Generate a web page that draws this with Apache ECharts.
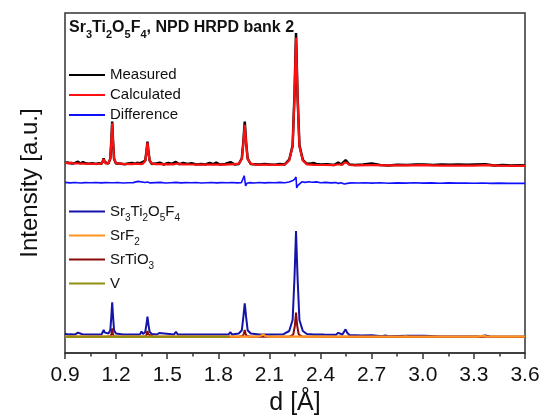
<!DOCTYPE html>
<html>
<head>
<meta charset="utf-8">
<script src="https://cdn.jsdelivr.net/npm/echarts@6/dist/echarts.min.js"></script>
<style>
  html, body { margin: 0; padding: 0; background: #fff; }
  #chart { width: 545px; height: 416px; }
</style>
</head>
<body>
<div id="chart"></div>
<script>
// x ticks (d in Angstrom)
const xTicks = [0.9, 1.2, 1.5, 1.8, 2.1, 2.4, 2.7, 3.0, 3.3, 3.6];

// upper pattern: [d, intensity] (arbitrary units, offset stacked)
const measured = [
  [0.900, 190.0], [0.915, 190.6], [0.930, 189.8], [0.937, 190.9], [0.945, 189.4], [0.960, 190.1], [0.976, 191.3], [0.990, 189.6],
  [1.006, 190.9], [1.020, 189.7], [1.040, 189.2], [1.060, 189.9], [1.080, 189.1], [1.100, 189.7], [1.115, 189.2], [1.122, 191.8],
  [1.127, 194.6], [1.132, 191.2], [1.140, 189.7], [1.155, 189.4], [1.166, 194.4], [1.172, 212.5], [1.177, 231.5], [1.182, 212.0],
  [1.188, 194.3], [1.199, 189.5], [1.220, 189.6], [1.250, 188.8], [1.270, 189.5], [1.294, 190.1], [1.310, 189.2], [1.323, 190.2],
  [1.329, 191.3], [1.336, 189.8], [1.349, 190.2], [1.358, 189.1], [1.371, 192.4], [1.378, 201.3], [1.384, 211.4], [1.390, 201.0],
  [1.397, 192.4], [1.410, 189.0], [1.430, 189.4], [1.456, 190.3], [1.480, 188.5], [1.506, 190.1], [1.525, 189.2], [1.551, 191.0],
  [1.570, 188.7], [1.594, 190.0], [1.620, 189.1], [1.643, 189.9], [1.670, 188.5], [1.700, 189.1], [1.725, 188.6], [1.749, 190.2],
  [1.770, 188.9], [1.788, 190.3], [1.810, 188.4], [1.840, 189.0], [1.871, 190.8], [1.895, 188.6], [1.920, 189.0], [1.938, 194.6],
  [1.947, 211.5], [1.955, 231.5], [1.963, 211.0], [1.972, 194.4], [1.990, 189.0], [2.010, 188.8], [2.040, 188.4], [2.070, 189.0],
  [2.100, 188.6], [2.130, 188.2], [2.160, 188.9], [2.190, 188.6], [2.216, 193.3], [2.236, 207.4], [2.247, 258.5], [2.256, 320.0],
  [2.265, 257.0], [2.276, 207.8], [2.296, 193.1], [2.320, 189.2], [2.340, 189.4], [2.357, 190.0], [2.375, 189.1], [2.400, 188.4],
  [2.440, 188.7], [2.480, 188.1], [2.504, 190.4], [2.520, 188.4], [2.547, 192.8], [2.570, 188.5], [2.600, 188.0], [2.650, 188.4],
  [2.700, 189.5], [2.750, 188.0], [2.800, 187.6], [2.850, 188.2], [2.910, 187.9], [2.960, 188.4], [3.010, 188.5], [3.060, 188.0],
  [3.110, 188.4], [3.160, 188.2], [3.210, 188.6], [3.260, 188.3], [3.310, 188.5], [3.367, 188.7], [3.420, 187.6], [3.470, 187.9],
  [3.520, 187.4], [3.570, 187.7], [3.600, 187.5]
];

const calculated = [
  [0.900, 190.3], [0.920, 189.6], [0.937, 190.4], [0.950, 189.5], [0.970, 189.6], [0.976, 190.8], [0.983, 189.5], [1.000, 189.4],
  [1.006, 190.4], [1.012, 189.3], [1.060, 189.2], [1.100, 189.2], [1.115, 189.5], [1.122, 191.5], [1.127, 194.0], [1.132, 191.5],
  [1.139, 189.4], [1.155, 189.8], [1.166, 194.4], [1.172, 211.5], [1.177, 230.0], [1.182, 211.5], [1.188, 194.4], [1.199, 189.8],
  [1.240, 189.0], [1.290, 188.9], [1.294, 189.7], [1.298, 188.9], [1.329, 189.4], [1.345, 188.8], [1.349, 189.8], [1.353, 188.8],
  [1.358, 189.4], [1.371, 191.9], [1.378, 200.5], [1.384, 210.3], [1.390, 200.5], [1.397, 191.9], [1.410, 189.4], [1.430, 188.8],
  [1.450, 188.8], [1.456, 189.8], [1.462, 188.8], [1.500, 188.7], [1.506, 189.7], [1.512, 188.7], [1.540, 188.7], [1.546, 189.5],
  [1.551, 190.6], [1.556, 189.5], [1.562, 188.6], [1.588, 188.6], [1.594, 189.6], [1.600, 188.6], [1.637, 188.5], [1.643, 189.5],
  [1.649, 188.5], [1.700, 188.4], [1.742, 188.4], [1.749, 189.8], [1.756, 188.4], [1.781, 188.4], [1.788, 189.9], [1.795, 188.4],
  [1.840, 188.3], [1.862, 188.6], [1.871, 190.3], [1.880, 188.6], [1.920, 189.4], [1.938, 194.0], [1.947, 210.2], [1.955, 228.2],
  [1.963, 210.2], [1.972, 194.0], [1.990, 189.4], [2.020, 188.2], [2.060, 188.5], [2.100, 188.1], [2.150, 188.2], [2.190, 188.5],
  [2.216, 192.5], [2.236, 206.4], [2.247, 256.7], [2.256, 315.2], [2.265, 256.7], [2.276, 206.4], [2.296, 192.5], [2.320, 188.6],
  [2.360, 188.1], [2.420, 188.0], [2.480, 187.9], [2.495, 188.5], [2.504, 189.8], [2.513, 188.5], [2.530, 188.3], [2.540, 190.5],
  [2.547, 192.2], [2.555, 190.2], [2.570, 188.0], [2.620, 187.7], [2.690, 187.8], [2.700, 189.0], [2.710, 187.8], [2.800, 187.6],
  [2.910, 187.7], [3.010, 187.8], [3.100, 187.4], [3.200, 187.5], [3.300, 187.4], [3.367, 187.8], [3.450, 187.3], [3.600, 187.2]
];

const difference = [
  [0.900, 170.6], [0.930, 170.1], [0.960, 170.5], [0.990, 170.0], [1.020, 170.4], [1.050, 170.2], [1.080, 170.5], [1.110, 170.1],
  [1.140, 170.4], [1.170, 170.3], [1.177, 172.0], [1.184, 170.2], [1.210, 170.5], [1.240, 170.0], [1.270, 170.3], [1.300, 170.4],
  [1.329, 171.6], [1.340, 170.2], [1.370, 170.5], [1.384, 171.0], [1.400, 170.1], [1.430, 170.4], [1.460, 170.6], [1.490, 170.0],
  [1.520, 170.3], [1.550, 170.6], [1.580, 170.1], [1.610, 170.4], [1.640, 170.2], [1.670, 170.5], [1.700, 170.0], [1.730, 170.3],
  [1.760, 170.5], [1.790, 170.1], [1.820, 170.4], [1.850, 170.2], [1.880, 170.5], [1.910, 170.1], [1.935, 170.2], [1.945, 168.3],
  [1.952, 177.3], [1.960, 167.0], [1.968, 169.8], [1.985, 170.4], [2.010, 170.0], [2.040, 170.5], [2.070, 170.1], [2.100, 170.4],
  [2.130, 170.2], [2.160, 170.6], [2.190, 170.3], [2.215, 171.0], [2.235, 172.2], [2.247, 173.6], [2.252, 172.4], [2.256, 176.0],
  [2.260, 165.0], [2.266, 167.3], [2.275, 169.2], [2.290, 171.2], [2.310, 170.6], [2.330, 171.2], [2.350, 170.8], [2.375, 171.1],
  [2.400, 170.3], [2.430, 170.6], [2.460, 170.1], [2.490, 170.4], [2.504, 169.6], [2.520, 170.2], [2.540, 169.0], [2.547, 168.0],
  [2.556, 169.6], [2.580, 170.1], [2.620, 170.0], [2.660, 170.3], [2.700, 169.9], [2.750, 170.2], [2.800, 169.8], [2.850, 170.1],
  [2.900, 169.9], [2.950, 170.2], [3.000, 169.9], [3.050, 170.1], [3.100, 169.8], [3.150, 170.1], [3.200, 169.9], [3.250, 170.0],
  [3.300, 169.7], [3.350, 170.0], [3.400, 169.6], [3.450, 169.9], [3.500, 169.6], [3.550, 169.8], [3.600, 169.6]
];

// lower pattern: phase contributions
const phaseSTOF = [
  [0.900, 19.2], [0.920, 18.6], [0.932, 18.7], [0.937, 20.4], [0.942, 18.7], [0.960, 18.6], [0.971, 18.7], [0.976, 20.4],
  [0.981, 18.7], [1.001, 18.7], [1.006, 20.4], [1.011, 18.6], [1.060, 18.5], [1.100, 18.5], [1.115, 18.8], [1.122, 20.6],
  [1.127, 23.1], [1.132, 20.6], [1.139, 18.7], [1.155, 19.5], [1.166, 22.8], [1.172, 36.6], [1.177, 50.6], [1.182, 36.6],
  [1.188, 22.8], [1.199, 19.5], [1.240, 18.5], [1.288, 18.5], [1.294, 19.6], [1.300, 18.5], [1.340, 18.6], [1.345, 19.6],
  [1.349, 21.5], [1.353, 19.6], [1.358, 19.1], [1.371, 21.0], [1.378, 28.4], [1.384, 36.3], [1.390, 28.4], [1.397, 21.0],
  [1.410, 19.0], [1.440, 18.5], [1.448, 18.6], [1.453, 20.0], [1.458, 18.6], [1.540, 18.5], [1.546, 19.6], [1.551, 21.3],
  [1.556, 19.6], [1.562, 18.5], [1.594, 18.5], [1.600, 20.0], [1.606, 18.5], [1.700, 18.5], [1.742, 18.5], [1.749, 19.7],
  [1.756, 18.5], [1.781, 18.5], [1.788, 20.0], [1.795, 18.5], [1.860, 18.6], [1.871, 20.8], [1.880, 18.6], [1.920, 19.5],
  [1.938, 22.8], [1.947, 36.1], [1.955, 49.6], [1.963, 36.1], [1.972, 22.8], [1.990, 19.5], [2.040, 18.5], [2.100, 18.6],
  [2.180, 18.7], [2.216, 22.0], [2.236, 33.0], [2.247, 75.3], [2.256, 122.0], [2.265, 75.3], [2.276, 33.0], [2.296, 22.0],
  [2.320, 19.0], [2.360, 18.5], [2.420, 18.4], [2.490, 18.3], [2.497, 18.9], [2.504, 20.2], [2.511, 18.9], [2.528, 18.5],
  [2.538, 20.3], [2.547, 23.6], [2.556, 20.3], [2.570, 18.1], [2.640, 17.6], [2.700, 17.8], [2.760, 16.8], [2.780, 17.4],
  [2.800, 16.7], [2.910, 17.2], [3.010, 17.3], [3.100, 16.5], [3.340, 16.7], [3.367, 17.6], [3.395, 16.6], [3.600, 16.3]
];

const phaseSrTiO3 = [
  [0.900, 16.3], [1.150, 16.3], [1.168, 16.8], [1.173, 19.5], [1.177, 24.5], [1.181, 19.5], [1.186, 16.8], [1.220, 16.3],
  [1.360, 16.3], [1.375, 16.8], [1.380, 18.6], [1.384, 22.0], [1.388, 18.6], [1.393, 16.8], [1.420, 16.3], [1.920, 16.3],
  [1.944, 17.0], [1.950, 19.4], [1.955, 23.0], [1.960, 19.4], [1.966, 17.0], [1.990, 16.3], [2.220, 16.4], [2.240, 18.5],
  [2.249, 27.0], [2.256, 40.3], [2.263, 27.0], [2.272, 18.5], [2.292, 16.4], [2.600, 16.3], [3.600, 16.3]
];

const phaseSrF2 = [
  [0.900, 16.3], [1.745, 16.3], [1.752, 16.8], [1.760, 16.3], [2.030, 16.3], [2.050, 17.2], [2.062, 18.8], [2.074, 17.2],
  [2.095, 16.3], [2.880, 16.3], [2.900, 16.7], [2.920, 16.3], [3.320, 16.3], [3.350, 17.2], [3.380, 16.4], [3.600, 16.3]
];

const phaseV = [[0.900, 16.3], [1.868, 16.3]];

// rich-text labels with subscripts
const richNames = {
  'Sr3Ti2O5F4': '{n|Sr}{s|3}{n|Ti}{s|2}{n|O}{s|5}{n|F}{s|4}',
  'SrF2': '{n|SrF}{s|2}',
  'SrTiO3': '{n|SrTiO}{s|3}',
  'V': '{n|V}'
};

const chart = echarts.init(document.getElementById('chart'));
const font = 'Liberation Sans, Arial, sans-serif';

const line = (name, data, color, width) => ({
  name: name,
  type: 'line',
  data: data,
  symbol: 'none',
  lineStyle: { color: color, width: width },
  itemStyle: { color: color },
  animation: false
});

const option = {
  backgroundColor: '#fff',
  textStyle: { fontFamily: font },
  title: {
    left: 69,
    top: 15,
    padding: 0,
    text: '{b|Sr}{bs|3}{b|Ti}{bs|2}{b|O}{bs|5}{b|F}{bs|4}{b|, NPD HRPD bank 2}',
    textStyle: {
      rich: {
        b: { fontSize: 16, fontWeight: 'bold', color: '#111', lineHeight: 25, fontFamily: font },
        bs: { fontSize: 11, fontWeight: 'bold', color: '#111', padding: [14, 0, 0, 0], fontFamily: font }
      }
    }
  },
  legend: [{
      left: 69,
      top: 66,
      padding: 0,
      orient: 'vertical',
      itemGap: 2,
      itemWidth: 36,
      itemHeight: 2,
      icon: 'rect',
      selectedMode: false,
      textStyle: { fontSize: 15, lineHeight: 18, color: '#111', fontFamily: font },
      data: ['Measured', 'Calculated', 'Difference']
    },
    {
      left: 69,
      top: 204,
      padding: 0,
      orient: 'vertical',
      itemGap: 5,
      itemWidth: 36,
      itemHeight: 2,
      icon: 'rect',
      selectedMode: false,
      formatter: name => richNames[name],
      textStyle: {
        color: '#111',
        rich: {
          n: { fontSize: 15, lineHeight: 23, color: '#111', fontFamily: font },
          s: { fontSize: 10, padding: [13, 0, 0, 0], color: '#111', fontFamily: font }
        }
      },
      data: ['Sr3Ti2O5F4', 'SrF2', 'SrTiO3', 'V']
    }
  ],
  grid: {
    left: 65,
    right: 20,
    top: 13,
    bottom: 63,
    outerBoundsMode: 'none',
    show: true,
    borderColor: '#333',
    borderWidth: 1.5
  },
  xAxis: {
    type: 'value',
    min: xTicks[0],
    max: xTicks[xTicks.length - 1],
    interval: 0.3,
    name: 'd [Å]',
    nameLocation: 'middle',
    nameGap: 30,
    nameTextStyle: { fontSize: 25, color: '#111', fontFamily: font },
    axisLine: { lineStyle: { color: '#333', width: 1.5 } },
    axisTick: { length: 6, lineStyle: { color: '#333', width: 1.5 } },
    minorTick: { show: true, splitNumber: 2, length: 3.5, lineStyle: { color: '#333', width: 1.5 } },
    splitLine: { show: false },
    axisLabel: {
      fontSize: 21,
      color: '#111',
      margin: 12,
      fontFamily: font,
      formatter: v => v.toFixed(1)
    }
  },
  yAxis: {
    type: 'value',
    min: 0,
    max: 340,
    name: 'Intensity [a.u.]',
    nameLocation: 'middle',
    nameGap: 23,
    nameTextStyle: { fontSize: 24, color: '#111', fontFamily: font },
    axisLine: { show: false },
    axisTick: { show: false },
    axisLabel: { show: false },
    splitLine: { show: false }
  },
  series: [
    line('Measured', measured, '#000000', 2.5),
    line('Calculated', calculated, '#ff1010', 2.2),
    line('Difference', difference, '#1010ff', 1.6),
    line('Sr3Ti2O5F4', phaseSTOF, '#1414a8', 2),
    line('SrTiO3', phaseSrTiO3, '#8b0a0a', 2),
    line('SrF2', phaseSrF2, '#ff9420', 2.2),
    line('V', phaseV, '#8f8f12', 2)
  ]
};

chart.setOption(option);
</script>
</body>
</html>
